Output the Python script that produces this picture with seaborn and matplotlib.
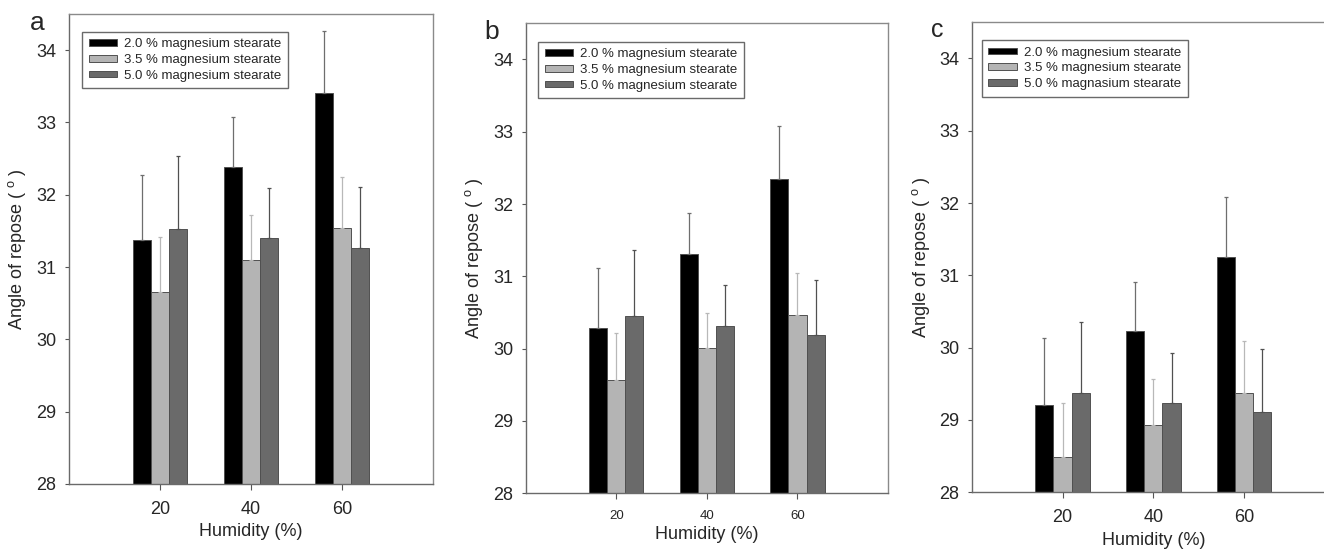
import pandas as pd
import matplotlib.pyplot as plt
import seaborn as sns

# Angle of repose vs humidity for three magnesium stearate levels (panels a, b, c)

humidity = ['20', '40', '60']
levels = ['2.0 % magnesium stearate', '3.5 % magnesium stearate', '5.0 % magnesium stearate']
# panel c legend has its own spelling in the original
labels_c = ['2.0 % magnesium stearate', '3.5 % magnesium stearate', '5.0 % magnasium stearate']

# means, one list per level, in humidity order
a_mean = [[31.37, 32.39, 33.41], [30.65, 31.10, 31.54], [31.53, 31.40, 31.27]]
a_err = [[0.91, 0.68, 0.85], [0.76, 0.62, 0.70], [1.01, 0.69, 0.84]]
b_mean = [[30.29, 31.31, 32.34], [29.57, 30.01, 30.47], [30.45, 30.32, 30.19]]
b_err = [[0.83, 0.56, 0.74], [0.65, 0.49, 0.57], [0.92, 0.56, 0.76]]
c_mean = [[29.21, 30.23, 31.25], [28.49, 28.93, 29.38], [29.37, 29.24, 29.11]]
c_err = [[0.92, 0.68, 0.84], [0.75, 0.64, 0.71], [0.99, 0.68, 0.87]]

colors = ['#000000', '#b4b4b4', '#6a6a6a']
err_colors = ['#6e6e6e', '#b8b8b8', '#505050']

sns.set_style('white')
plt.rcParams['font.family'] = ['Liberation Sans', 'DejaVu Sans']
plt.rcParams['mathtext.fontset'] = 'custom'
plt.rcParams['mathtext.rm'] = 'Liberation Sans'
plt.rcParams['mathtext.it'] = 'Liberation Sans'


def make_df(means):
    rows = []
    for lev, vals in zip(levels, means):
        for h, v in zip(humidity, vals):
            rows.append({'Humidity': h, 'Angle': v, 'Level': lev})
    return pd.DataFrame(rows)


def draw_panel(ax, means, errs, legend_labels, xtick_size, xlab_y, ylab_x, leg_anchor):
    df = make_df(means)
    sns.barplot(data=df, x='Humidity', y='Angle', hue='Level', palette=colors,
                width=0.6, saturation=1, errorbar=None, edgecolor='#505050',
                linewidth=0.7, ax=ax)
    # one-sided error bars on top of each bar
    for cont, e, ec in zip(ax.containers, errs, err_colors):
        xs = [p.get_x() + p.get_width() / 2 for p in cont.patches]
        ys = [p.get_height() for p in cont.patches]
        ax.errorbar(xs, ys, yerr=[[0] * len(e), e], fmt='none', ecolor=ec,
                    elinewidth=0.9, capsize=1.6, capthick=0.9, zorder=1)
    ax.set_xlim(-1, 3)
    ax.set_ylim(28, 34.5)
    ax.set_yticks([28, 29, 30, 31, 32, 33, 34])
    ax.tick_params(axis='y', labelsize=13, length=3, pad=6, direction='out', left=True, color='#555555')
    ax.tick_params(axis='x', labelsize=xtick_size, length=4, pad=8, direction='out', bottom=True, color='#555555')
    for sp in ax.spines.values():
        sp.set_color('#6a6a6a')
        sp.set_linewidth(1)
    ax.spines['top'].set_color('#8a8a8a')
    ax.spines['right'].set_color('#8a8a8a')
    ax.set_xlabel('Humidity (%)', fontsize=13)
    ax.set_ylabel('Angle of repose ( $^{\\rm o}$ )', fontsize=13)
    ax.xaxis.set_label_coords(0.5, xlab_y)
    ax.yaxis.set_label_coords(ylab_x, 0.5)
    handles, _ = ax.get_legend_handles_labels()
    ax.legend(handles, legend_labels, loc='upper left', bbox_to_anchor=leg_anchor,
              borderaxespad=0, fontsize=9.5, fancybox=False, framealpha=1,
              edgecolor='#6a6a6a', handlelength=2.15, handleheight=0.4,
              labelspacing=0.28, handletextpad=0.55, borderpad=0.5)


fig = plt.figure(figsize=(13.24, 5.49), dpi=100)
ax_a = fig.add_axes([0.0521, 0.1184, 0.2749, 0.8561])
ax_b = fig.add_axes([0.3971, 0.1015, 0.2736, 0.8561])
ax_c = fig.add_axes([0.7339, 0.1033, 0.2744, 0.8560])

draw_panel(ax_a, a_mean, a_err, levels, 13, -0.083, -0.113, (0.036, 0.962))
draw_panel(ax_b, b_mean, b_err, levels, 9.5, -0.070, -0.112, (0.034, 0.961))
draw_panel(ax_c, c_mean, c_err, labels_c, 13, -0.085, -0.109, (0.028, 0.962))

fig.text(0.028, 0.958, 'a', fontsize=19, ha='center', va='center')
fig.text(0.3716, 0.942, 'b', fontsize=19, ha='center', va='center')
fig.text(0.7077, 0.945, 'c', fontsize=18, ha='center', va='center')

plt.savefig('out.png', dpi=100)
